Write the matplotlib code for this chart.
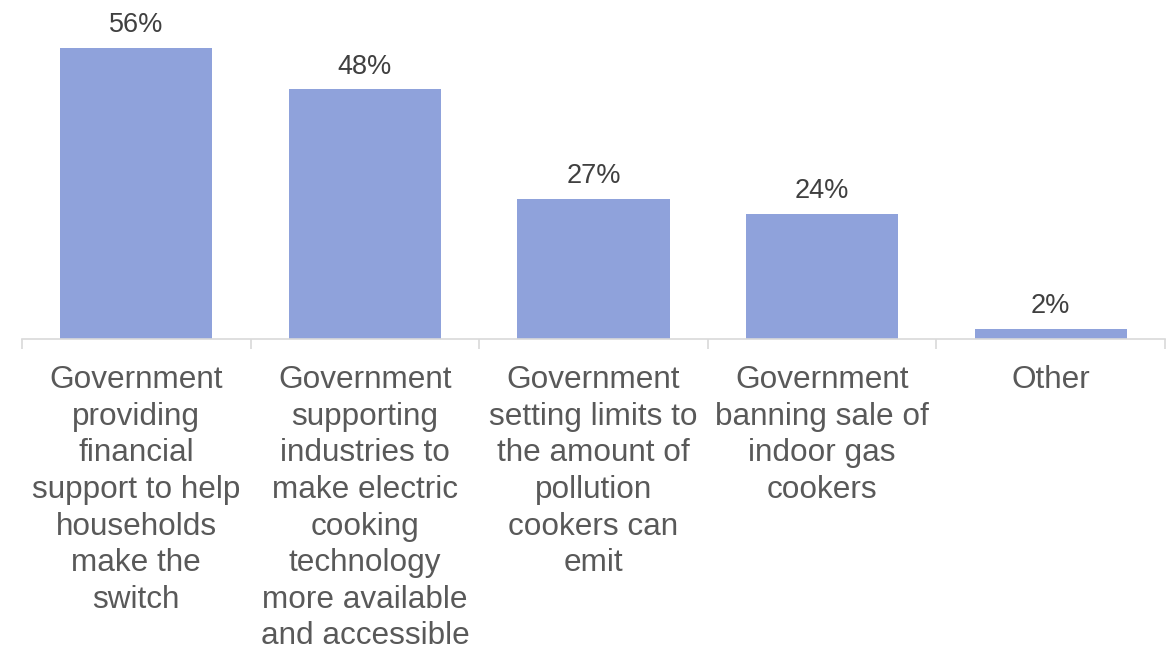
import matplotlib
matplotlib.use("Agg")
import matplotlib.pyplot as plt
import numpy as np

plt.rcParams["font.family"] = ["Liberation Sans", "DejaVu Sans"]

# Survey responses: support measures for switching to electric cooking
categories = [
    "Government\nproviding\nfinancial\nsupport to help\nhouseholds\nmake the\nswitch",
    "Government\nsupporting\nindustries to\nmake electric\ncooking\ntechnology\nmore available\nand accessible",
    "Government\nsetting limits to\nthe amount of\npollution\ncookers can\nemit",
    "Government\nbanning sale of\nindoor gas\ncookers",
    "Other",
]
values = [56, 48, 27, 24, 2]

bar_color = "#8fa2db"
label_color = "#404040"
axis_color = "#d9d9d9"

fig = plt.figure(figsize=(11.72, 6.49), dpi=100)
ax = fig.add_axes([22 / 1172, 310 / 649, 1143 / 1172, 339 / 649])

x = np.arange(len(values))
bars = ax.bar(x, values, width=0.665, color=bar_color)

for xi, v in zip(x, values):
    ax.annotate(f"{v}%", (xi, v), xytext=(0, 7), textcoords="offset points",
                ha="center", va="bottom", fontsize=19.5, color=label_color)

ax.set_xlim(-0.5, len(values) - 0.5)
ax.set_ylim(0, 65.2)

# category labels under each bar, separator ticks between categories
ax.set_xticks(x)
ax.set_xticklabels(categories, fontsize=22.7, color="#595959", linespacing=1.285)
ax.tick_params(axis="x", which="major", length=0, pad=19)
ax.set_xticks(np.arange(-0.5, len(values)), minor=True)
ax.tick_params(axis="x", which="minor", length=7, width=1.2, color=axis_color)

ax.set_yticks([])
for side in ["top", "left", "right"]:
    ax.spines[side].set_visible(False)
ax.spines["bottom"].set_color(axis_color)
ax.spines["bottom"].set_linewidth(1.2)

fig.savefig("out.png", dpi=100)
